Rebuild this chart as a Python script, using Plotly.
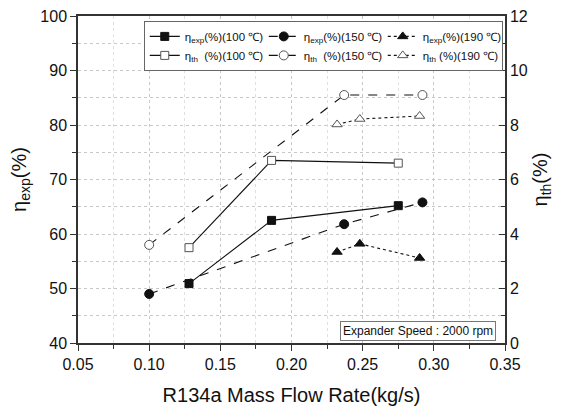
import plotly.graph_objects as go

# ---- data ----
flow_exp100 = [0.128, 0.186, 0.275]
eta_exp100 = [50.9, 62.5, 65.2]
flow_exp150 = [0.100, 0.237, 0.292]
eta_exp150 = [49.0, 61.8, 65.8]
flow_exp190 = [0.232, 0.248, 0.290]
eta_exp190 = [56.7, 58.2, 55.6]

flow_th100 = [0.128, 0.186, 0.275]
eta_th100 = [3.5, 6.7, 6.6]
flow_th150 = [0.100, 0.237, 0.292]
eta_th150 = [3.6, 9.1, 9.1]
flow_th190 = [0.232, 0.248, 0.290]
eta_th190 = [8.02, 8.22, 8.33]

x_ticks = [0.05, 0.10, 0.15, 0.20, 0.25, 0.30, 0.35]
x_ticklabels = ["0.05", "0.10", "0.15", "0.20", "0.25", "0.30", "0.35"]

FONT = "Liberation Sans, Arial, sans-serif"
fig = go.Figure()

def add(x, y, name, sym, dash, filled, axis):
    size = {"square": 8, "circle": 9, "triangle-up": 9}[sym]
    fig.add_trace(go.Scatter(
        x=x, y=y, name=name, mode="lines+markers", yaxis=axis,
        line=dict(color="#111", width=1.1, dash=dash),
        marker=dict(symbol=sym, size=size,
                    color="#111" if filled else "white",
                    line=dict(color="#111" if filled else "#555", width=1)),
    ))

add(flow_exp100, eta_exp100, "η<sub>exp</sub>(%)(100 ℃)", "square", "solid", True, "y")
add(flow_exp150, eta_exp150, "η<sub>exp</sub>(%)(150 ℃)", "circle", "dash", True, "y")
add(flow_exp190, eta_exp190, "η<sub>exp</sub>(%)(190 ℃)", "triangle-up", "dot", True, "y")
add(flow_th100, eta_th100, "η<sub>th</sub>  (%)(100 ℃)", "square", "solid", False, "y2")
add(flow_th150, eta_th150, "η<sub>th</sub>  (%)(150 ℃)", "circle", "dash", False, "y2")
add(flow_th190, eta_th190, "η<sub>th</sub> (%)(190 ℃)", "triangle-up", "dot", False, "y2")

grid = dict(gridcolor="#c8c8c8", griddash="dot", gridwidth=1)

fig.update_layout(
    width=555, height=401,
    margin=dict(l=70, r=58, t=8, b=66),
    paper_bgcolor="white", plot_bgcolor="white",
    font=dict(family=FONT, color="#111"),
    showlegend=True,
    legend=dict(
        orientation="h", x=0.154, y=0.985, xanchor="left", yanchor="top",
        bgcolor="white", bordercolor="#666", borderwidth=1,
        font=dict(size=11.5, family=FONT), entrywidth=74, entrywidthmode="pixels",
        itemwidth=30, tracegroupgap=0,
    ),
    xaxis=dict(
        range=[0.05, 0.35], tickvals=x_ticks, ticktext=x_ticklabels,
        showline=True, linecolor="#333", linewidth=1.5, mirror=True,
        ticks="outside", ticklen=6, tickcolor="#333",
        tickfont=dict(size=16), automargin=False, ticklabeloverflow="allow",
        title=dict(text="R134a Mass Flow Rate(kg/s)", font=dict(size=20), standoff=16),
        showgrid=True, **grid,
        minor=dict(dtick=0.025, tick0=0.05, ticks="outside", ticklen=4, tickcolor="#333",
                   showgrid=True, gridcolor="#e0e0e0", griddash="dot"),
        zeroline=False,
    ),
    yaxis=dict(
        range=[40, 100], dtick=10,
        showline=True, linecolor="#333", linewidth=1.5,
        ticks="outside", ticklen=6, tickcolor="#333",
        tickfont=dict(size=16), automargin=False, ticklabeloverflow="allow",
        title=dict(text="η<sub>exp</sub>(%)", font=dict(size=20), standoff=12),
        showgrid=True, **grid,
        minor=dict(dtick=5, ticks="outside", ticklen=4, tickcolor="#333",
                   showgrid=True, gridcolor="#c8c8c8", griddash="dot"),
        zeroline=False,
    ),
    yaxis2=dict(
        range=[0, 12], dtick=2, overlaying="y", side="right",
        showline=True, linecolor="#333", linewidth=1.5,
        ticks="inside", ticklen=6, tickcolor="#333",
        tickfont=dict(size=16), automargin=False, ticklabeloverflow="allow",
        title=dict(text="η<sub>th</sub>(%)", font=dict(size=20), standoff=6),
        showgrid=False,
        minor=dict(dtick=1, ticks="inside", ticklen=4, tickcolor="#333"),
        zeroline=False,
    ),
    annotations=[dict(
        text="Expander Speed : 2000 rpm", xref="paper", yref="paper",
        x=0.978, y=0.006, xanchor="right", yanchor="bottom", showarrow=False,
        font=dict(size=12, family=FONT), bgcolor="white",
        bordercolor="#777", borderwidth=1, borderpad=2,
    )],
)

fig.write_html("out.html")
